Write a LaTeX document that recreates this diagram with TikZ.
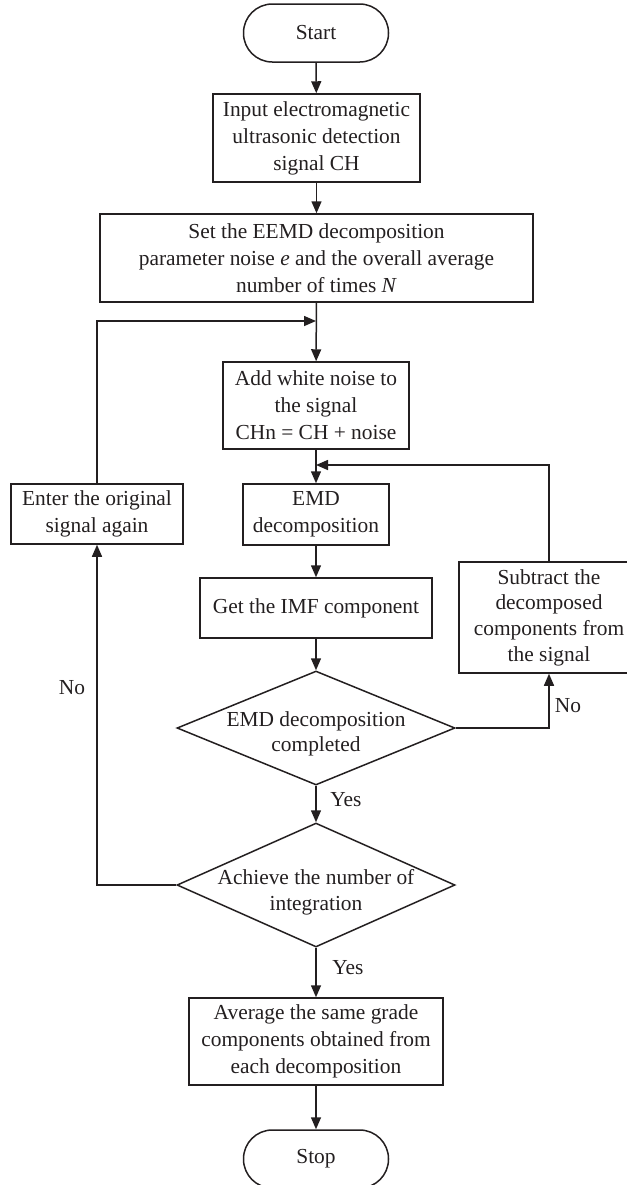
\documentclass[tikz,border=0pt]{standalone}
\usepackage{fontspec}
\setmainfont{Liberation Serif}
\usetikzlibrary{arrows.meta,shapes.geometric}
\definecolor{ink}{HTML}{231F20}
\begin{document}
\begin{tikzpicture}[x=0.5pt,y=-0.5pt,
  every node/.style={font=\fontsize{10.7}{13.5}\selectfont,text=ink,align=center,inner sep=0pt},
  box/.style={draw=ink,line width=0.75pt,rectangle},
  term/.style={draw=ink,line width=0.75pt,rectangle,rounded corners=14.4pt,minimum width=72.5pt,minimum height=29pt},
  dia/.style={draw=ink,line width=0.75pt,diamond,minimum width=139pt,minimum height=#1},
  diatext/.style={font=\fontsize{10.7}{12.8}\selectfont},
  arr/.style={draw=ink,line width=0.75pt,-{Triangle[length=6pt,width=5pt]}},
  ln/.style={draw=ink,line width=0.75pt}]
\useasboundingbox (0,0) rectangle (627,1185);
\clip (0,0) rectangle (627,1185);
% nodes
\node[term] (start) at (316,33) {Start};
\node[box,minimum width=103.5pt,minimum height=44pt] (input) at (316.5,138) {Input electromagnetic\\ultrasonic detection\\signal CH};
\node[box,minimum width=216.5pt,minimum height=44pt] (set) at (316.5,258) {Set the EEMD decomposition\\parameter noise \textit{e} and the overall average\\number of times \textit{N}};
\node[box,minimum width=93pt,minimum height=43.5pt] (add) at (316,405.5) {Add white noise to\\the signal\\CHn = CH + noise};
\node[box,minimum width=73pt,minimum height=30.5pt] (emd) at (316,514.5) {EMD\\decomposition};
\node[box,minimum width=116pt,minimum height=30pt] (imf) at (316,608) {Get the IMF component};
\node[box,minimum width=90pt,minimum height=55.5pt,font=\fontsize{10.7}{12.8}\selectfont] (sub) at (549,617.5) {Subtract the\\decomposed\\components from\\the signal};
\node[dia=57pt] (d1) at (316,728) {};
\node[diatext] (d1t) at (316,734) {EMD decomposition\\completed};
\node[dia=62pt] (d2) at (316,885) {};
\node[diatext] (d2t) at (316,892) {Achieve the number of\\integration};
\node[box,minimum width=86pt,minimum height=30pt] (enter) at (97,514) {Enter the original\\signal again};
\node[box,minimum width=127pt,minimum height=43.5pt] (avg) at (316,1041.5) {Average the same grade\\components obtained from\\each decomposition};
\node[term] (stop) at (316,1159) {Stop};
% labels
\node (no1) at (72,688) {No};
\node (no2) at (568,706) {No};
\node (yes1) at (346,800) {Yes};
\node (yes2) at (348,968) {Yes};
% junctions
\coordinate (j1) at (316,321);
\coordinate (j2) at (316,465);
% connectors
\draw[arr] (start) -- (input);
\draw[arr] (input) -- (set);
\draw[arr] (set) -- (add);
\draw[arr] (add) -- (emd);
\draw[arr] (emd) -- (imf);
\draw[arr] (imf) -- (d1.north);
\draw[arr] (d1.south) -- (d2.north);
\draw[arr] (d2.south) -- (avg);
\draw[arr] (avg) -- (stop);
\draw[arr] (enter.north) |- (j1);
\draw[arr] (sub.north) |- (j2);
\draw[arr] (d1.east) -| (sub.south);
\draw[arr] (d2.west) -| (enter.south);
\end{tikzpicture}
\end{document}
